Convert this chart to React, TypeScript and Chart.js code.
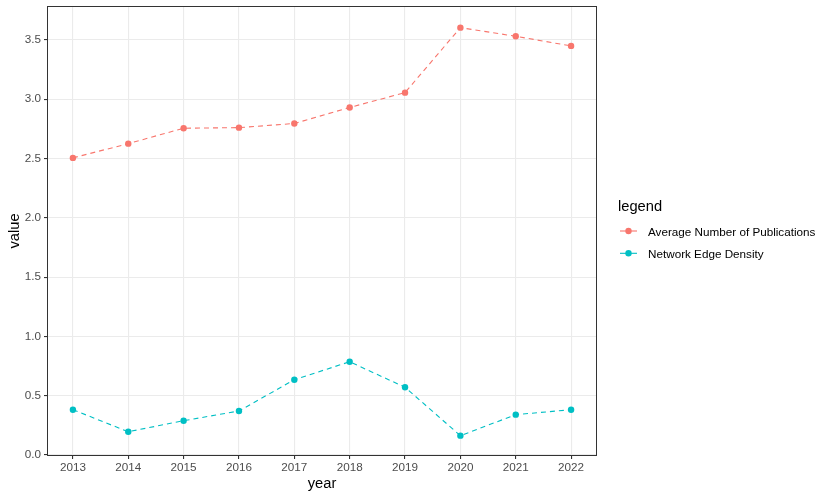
import { useEffect, useRef } from "react";
import { Chart, registerables } from "chart.js";

Chart.register(...registerables);

const years = [2013, 2014, 2015, 2016, 2017, 2018, 2019, 2020, 2021, 2022];
const avgPublications = [2.505, 2.625, 2.755, 2.76, 2.795, 2.93, 3.055, 3.603, 3.53, 3.449];
const edgeDensity = [0.382, 0.196, 0.289, 0.371, 0.635, 0.786, 0.571, 0.163, 0.34, 0.382];
const yTicks = [0, 0.5, 1.0, 1.5, 2.0, 2.5, 3.0, 3.5];
const seriesNames = ["Average Number of Publications", "Network Edge Density"];
const seriesColors = ["#F8766D", "#00BFC4"];
const legendTitle = "legend";
const xTitle = "year";
const yTitle = "value";

const FONT = "'Liberation Sans', Arial, Helvetica, sans-serif";

export default function App() {
  const ref = useRef<HTMLCanvasElement | null>(null);

  useEffect(() => {
    if (!ref.current) return;

    const panelAndLegend = {
      id: "panelAndLegend",
      afterDatasetsDraw(chart: any) {
        const { ctx, chartArea } = chart;
        ctx.save();
        // panel border
        ctx.strokeStyle = "#333333";
        ctx.lineWidth = 1;
        ctx.strokeRect(
          Math.round(chartArea.left) - 0.5,
          Math.round(chartArea.top) - 0.5,
          Math.round(chartArea.right - chartArea.left) + 1,
          Math.round(chartArea.bottom - chartArea.top) + 1
        );
        // legend
        const lx = chartArea.right + 22;
        ctx.fillStyle = "#000000";
        ctx.textAlign = "left";
        ctx.textBaseline = "alphabetic";
        ctx.font = `14.7px ${FONT}`;
        ctx.fillText(legendTitle, lx, 210.5);
        ctx.font = `11.7px ${FONT}`;
        const rows = [231, 253.3];
        seriesNames.forEach((name, i) => {
          const cy = rows[i];
          ctx.strokeStyle = seriesColors[i];
          ctx.lineWidth = 1.1;
          ctx.setLineDash([]);
          ctx.beginPath();
          ctx.moveTo(lx + 2, cy);
          ctx.lineTo(lx + 19, cy);
          ctx.stroke();
          ctx.fillStyle = seriesColors[i];
          ctx.beginPath();
          ctx.arc(lx + 10.5, cy, 3.2, 0, Math.PI * 2);
          ctx.fill();
          ctx.fillStyle = "#000000";
          ctx.fillText(name, lx + 30, cy + 4.5);
        });
        ctx.restore();
      },
    };

    const chart = new Chart(ref.current, {
      type: "line",
      data: {
        datasets: [
          {
            label: seriesNames[0],
            data: years.map((y, i) => ({ x: y, y: avgPublications[i] })),
            borderColor: seriesColors[0],
            backgroundColor: seriesColors[0],
            borderWidth: 1.1,
            borderDash: [5, 4],
            pointRadius: 3.2,
            pointBorderWidth: 0,
            pointBackgroundColor: seriesColors[0],
            tension: 0,
          },
          {
            label: seriesNames[1],
            data: years.map((y, i) => ({ x: y, y: edgeDensity[i] })),
            borderColor: seriesColors[1],
            backgroundColor: seriesColors[1],
            borderWidth: 1.1,
            borderDash: [5, 4],
            pointRadius: 3.2,
            pointBorderWidth: 0,
            pointBackgroundColor: seriesColors[1],
            tension: 0,
          },
        ],
      },
      options: {
        animation: false,
        responsive: true,
        maintainAspectRatio: false,
        layout: { padding: { top: 7, right: 235, left: 0, bottom: 0 } },
        plugins: {
          legend: { display: false },
          tooltip: { enabled: false },
          title: { display: false },
        },
        scales: {
          x: {
            type: "linear",
            min: 2012.55,
            max: 2022.45,
            afterBuildTicks: (axis: any) => {
              axis.ticks = years.map((v) => ({ value: v }));
            },
            afterFit: (axis: any) => {
              axis.height = 43;
              axis.paddingLeft = 0;
              axis.paddingRight = 0;
            },
            grid: {
              color: "#EBEBEB",
              lineWidth: 1.1,
              tickColor: "#333333",
              tickLength: 4,
              drawTicks: true,
            },
            border: { display: false },
            ticks: {
              autoSkip: false,
              maxRotation: 0,
              padding: 2,
              color: "#4D4D4D",
              font: { family: FONT, size: 11.7 },
              callback: (v: any) => String(v),
            },
            title: {
              display: true,
              text: xTitle,
              color: "#000000",
              font: { family: FONT, size: 14.7 },
              padding: { top: 0, bottom: 5 },
            },
          },
          y: {
            type: "linear",
            min: 0,
            max: 3.777,
            afterBuildTicks: (axis: any) => {
              axis.ticks = yTicks.map((v) => ({ value: v }));
            },
            afterFit: (axis: any) => {
              axis.width = 48;
              axis.paddingTop = 0;
              axis.paddingBottom = 0;
            },
            grid: {
              color: "#EBEBEB",
              lineWidth: 1.1,
              tickColor: "#333333",
              tickLength: 4,
              drawTicks: true,
            },
            border: { display: false },
            ticks: {
              autoSkip: false,
              padding: 3,
              color: "#4D4D4D",
              font: { family: FONT, size: 11.7 },
              callback: (v: any) => Number(v).toFixed(1),
            },
            title: {
              display: true,
              text: yTitle,
              color: "#000000",
              font: { family: FONT, size: 14.7 },
              padding: { top: 6, bottom: 0 },
            },
          },
        },
      },
      plugins: [panelAndLegend],
    } as any);

    return () => chart.destroy();
  }, []);

  return (
    <div style={{ position: "fixed", left: 0, top: 0, width: 831, height: 498, background: "#ffffff" }}>
      <canvas ref={ref} />
    </div>
  );
}
